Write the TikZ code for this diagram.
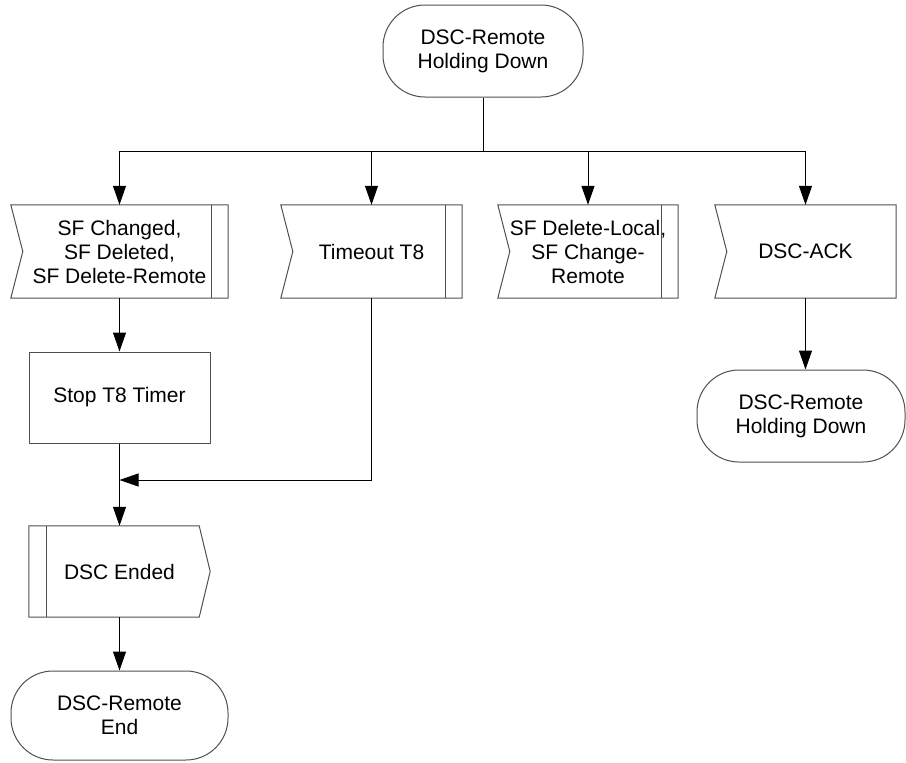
\documentclass[tikz,border=0pt]{standalone}
\usepackage{fontspec}
\setmainfont{Liberation Sans}
\usepackage{xcolor}
\definecolor{edgegray}{RGB}{80,80,80}
\usepackage{tikz}
\usetikzlibrary{arrows.meta, positioning, calc}

\begin{document}
\begin{tikzpicture}[
  x=1pt, y=-1pt,
  term/.style={rectangle, rounded corners=42pt, draw=edgegray, line width=1pt,
               minimum width=#1, minimum height=92pt, inner sep=0pt,
               font=\fontsize{21}{24}\selectfont, align=center},
  sig/.style={rectangle, minimum width=#1, minimum height=93pt, inner sep=0pt,
              font=\fontsize{21}{24}\selectfont, align=center},
  task/.style={rectangle, draw=edgegray, line width=1pt,
               minimum width=181pt, minimum height=91pt, inner sep=0pt,
               font=\fontsize{21}{24}\selectfont, align=center},
  outline/.style={draw=edgegray, line width=1pt, line join=miter},
  wire/.style={draw=black, line width=1pt},
  arr/.style={-{Triangle[length=19pt,width=13pt]}, line width=1pt, draw=black}
]
\useasboundingbox (0,0) rectangle (906,763);

% Start state
\node[term=200pt] (top) at (483,51) {DSC-Remote\\Holding Down};

% Input signals
\node[sig=217pt] (sigA) at (119.5,251.5) {SF Changed,\\SF Deleted,\\SF Delete-Remote};
\node[sig=181pt] (sigB) at (371.5,251.5) {Timeout T8};
\node[sig=180pt] (sigC) at (588,251.5) {SF Delete-Local,\\SF Change-\\Remote};
\node[sig=181pt] (sigD) at (805.5,251.5) {DSC-ACK};

% Task and output signal
\node[task] (stop) at (119.5,397.5) {Stop T8 Timer};
\node[sig=181pt, minimum height=91pt] (ended) at (119.5,571.5) {DSC Ended};

% End states
\node[term=217pt, minimum height=89pt] (endT) at (119.5,715.5) {DSC-Remote\\End};
\node[term=208pt] (holdR) at (801,416) {DSC-Remote\\Holding Down};

% Signal outlines
\foreach \n in {sigA,sigB,sigC,sigD}
  \draw[outline] (\n.north west) -- (\n.north east) -- (\n.south east)
    -- (\n.south west) -- ([xshift=12pt]\n.west) -- cycle;
\foreach \n in {sigA,sigB,sigC}
  \draw[outline] ([xshift=-17pt]\n.north east) -- ([xshift=-17pt]\n.south east);
\draw[outline] (ended.north west) -- ([xshift=-11pt]ended.north east) -- (ended.east)
  -- ([xshift=-11pt]ended.south east) -- (ended.south west) -- cycle;
\draw[outline] ([xshift=18pt]ended.north west) -- ([xshift=18pt]ended.south west);

% Connectors
\coordinate (bus) at (483,151);
\coordinate (join) at (119.5,480);
\draw[wire] (top.south) -- (bus);
\draw[wire] (bus -| sigA.north) -- (bus -| sigD.north);
\foreach \n in {sigA,sigB,sigC,sigD}
  \draw[arr] (bus -| \n.north) -- (\n.north);
\draw[arr] (sigA.south) -- (stop.north);
\draw[arr] (stop.south) -- (ended.north);
\draw[arr] (sigB.south) |- (join);
\draw[arr] (ended.south) -- (endT.north);
\draw[arr] (sigD.south) -- (sigD.south |- holdR.north);
\end{tikzpicture}
\end{document}
